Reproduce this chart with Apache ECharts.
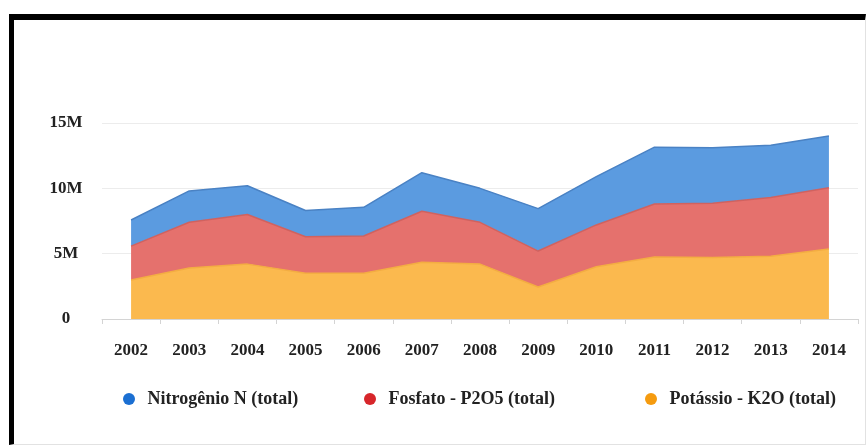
<!DOCTYPE html>
<html>
<head>
<meta charset="utf-8">
<script src="https://cdn.jsdelivr.net/npm/echarts@6/dist/echarts.min.js"></script>
<style>
  html, body { margin: 0; padding: 0; background: #fff; }
  #frame {
    position: absolute; left: 9px; top: 14px; width: 851px; height: 424px;
    border-top: 6px solid #000; border-left: 5px solid #000;
    border-right: 1px solid #e2e2e2; border-bottom: 1px solid #e2e2e2;
  }
  #chart { position: absolute; left: 0; top: 0; width: 867px; height: 446px; }
</style>
</head>
<body>
<div id="frame"></div>
<div id="chart"></div>
<script>
  // anos
  const years = ["2002", "2003", "2004", "2005", "2006", "2007", "2008", "2009", "2010", "2011", "2012", "2013", "2014"]
  // valores em milhões de toneladas
  const potassio = [2.98, 3.9, 4.2, 3.5, 3.5, 4.35, 4.2, 2.45, 4.0, 4.75, 4.7, 4.8, 5.35]
  const fosfato = [2.6, 3.5, 3.8, 2.8, 2.85, 3.9, 3.2, 2.75, 3.2, 4.05, 4.15, 4.5, 4.7]
  const nitrogenio = [2.0, 2.4, 2.2, 2.0, 2.2, 2.95, 2.6, 3.25, 3.7, 4.35, 4.25, 4.0, 3.95]
  const yTicks = [0, 5, 10, 15]

  const names = ["Nitrogênio N (total)", "Fosfato - P2O5 (total)", "Potássio - K2O (total)"]
  const font = "Liberation Serif"

  function legendFor(name, iconColor, left) {
    return {
      data: [{ name: name, icon: "circle", itemStyle: { color: iconColor } }],
      left: left,
      top: 385,
      itemWidth: 15,
      itemHeight: 12,
      itemGap: 0,
      textStyle: { fontFamily: font, fontWeight: "bold", fontSize: 18, color: "#222", padding: [0, 0, 0, 6] },
    }
  }

  function areaSeries(name, data, fill, edge) {
    return {
      name: name,
      type: "line",
      stack: "total",
      data: data,
      symbol: "none",
      lineStyle: { color: edge, width: 1.5 },
      itemStyle: { color: fill },
      areaStyle: { color: fill, opacity: 1 },
    }
  }

  const option = {
    backgroundColor: "transparent",
    animation: false,
    grid: { left: 102, right: 9, top: 123, bottom: 127 },
    legend: [
      legendFor(names[0], "#1b6fd2", 118),
      legendFor(names[1], "#d7262b", 359),
      legendFor(names[2], "#f59b0f", 640),
    ],
    xAxis: {
      type: "category",
      data: years,
      boundaryGap: true,
      axisLine: { lineStyle: { color: "#d4d4d4" } },
      axisTick: { show: true, length: 5, lineStyle: { color: "#d4d4d4" } },
      axisLabel: { fontFamily: font, fontWeight: "bold", fontSize: 17, color: "#222", margin: 23 },
      splitLine: { show: false },
    },
    yAxis: {
      type: "value",
      min: yTicks[0],
      max: yTicks[yTicks.length - 1],
      interval: yTicks[1] - yTicks[0],
      axisLine: { show: false },
      axisTick: { show: false },
      axisLabel: {
        fontFamily: font, fontWeight: "bold", fontSize: 17, color: "#222",
        align: "center", margin: 36,
        formatter: (v) => (v === 0 ? "0" : v + "M"),
      },
      splitLine: { lineStyle: { color: "#ececec" } },
    },
    series: [
      areaSeries(names[2], potassio, "#fbb94e", "#f3ad42"),
      areaSeries(names[1], fosfato, "#e5716d", "#d0625f"),
      areaSeries(names[0], nitrogenio, "#5b9be0", "#4a82c4"),
    ],
  }

  const myChart = echarts.init(document.getElementById("chart"))
  myChart.setOption(option)
</script>
</body>
</html>
